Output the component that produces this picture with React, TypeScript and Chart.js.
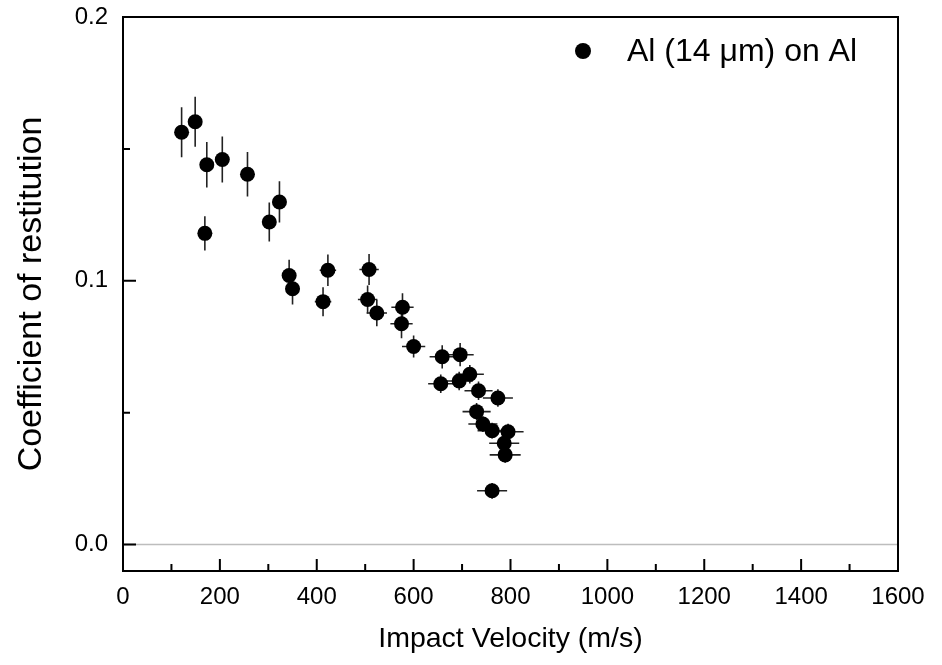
import { useEffect, useRef } from 'react';
import { Chart, registerables } from 'chart.js';

Chart.register(...registerables);

const velocity = [121, 149, 173, 205, 257, 323, 302, 169, 343, 350, 423, 413, 508, 505, 524, 577, 575, 600, 659, 696, 656, 694, 716, 734, 774, 730, 743, 762, 795, 787, 789, 762];
const restitution = [0.1563, 0.1603, 0.144, 0.146, 0.1404, 0.1299, 0.1223, 0.118, 0.102, 0.097, 0.104, 0.0921, 0.1043, 0.0929, 0.0878, 0.09, 0.0837, 0.0751, 0.0712, 0.072, 0.061, 0.062, 0.0646, 0.0583, 0.0556, 0.0504, 0.0457, 0.0432, 0.0428, 0.0384, 0.034, 0.0204];
const velocityError = [5, 6, 7, 8, 10, 13, 12, 7, 14, 14, 17, 17, 20, 20, 21, 23, 23, 24, 26, 28, 26, 28, 29, 29, 31, 29, 30, 30, 32, 31, 32, 31];
const restitutionError = [0.0095, 0.0095, 0.0086, 0.0087, 0.0084, 0.0078, 0.0074, 0.0065, 0.006, 0.006, 0.006, 0.0055, 0.0059, 0.0053, 0.005, 0.0053, 0.0055, 0.0042, 0.0044, 0.0044, 0.0035, 0.0035, 0.0035, 0.0035, 0.0033, 0.0033, 0.003, 0.003, 0.003, 0.003, 0.003, 0.003];

const xMajorTicks = [0, 200, 400, 600, 800, 1000, 1200, 1400, 1600];
const xMinorTicks = [100, 300, 500, 700, 900, 1100, 1300, 1500];
const yMajorTicks = [0, 0.1, 0.2];
const yTickLabels = ['0.0', '0.1', '0.2'];
const yMinorTicks = [0.05, 0.15];

const seriesLabel = 'Al (14 \u03bcm) on Al';
const xTitle = 'Impact Velocity (m/s)';
const yTitle = 'Coefficient of restitution';

const FONT = "'Liberation Sans', Arial, sans-serif";

const decorPlugin = {
  id: 'decor',
  beforeDatasetsDraw(chart: any) {
    const { ctx, chartArea, scales } = chart;
    const x = scales.x;
    const y = scales.y;
    ctx.save();
    const y0 = y.getPixelForValue(0);
    ctx.strokeStyle = '#bdbdbd';
    ctx.lineWidth = 1.5;
    ctx.beginPath();
    ctx.moveTo(chartArea.left, y0);
    ctx.lineTo(chartArea.right, y0);
    ctx.stroke();
    ctx.strokeStyle = '#222';
    ctx.lineWidth = 1.6;
    for (let i = 0; i < velocity.length; i++) {
      const px = x.getPixelForValue(velocity[i]);
      const py = y.getPixelForValue(restitution[i]);
      const yTop = y.getPixelForValue(restitution[i] + restitutionError[i]);
      const yBot = y.getPixelForValue(restitution[i] - restitutionError[i]);
      const xL = x.getPixelForValue(velocity[i] - velocityError[i]);
      const xR = x.getPixelForValue(velocity[i] + velocityError[i]);
      ctx.beginPath();
      ctx.moveTo(px, yTop);
      ctx.lineTo(px, yBot);
      ctx.moveTo(xL, py);
      ctx.lineTo(xR, py);
      ctx.stroke();
    }
    ctx.restore();
  },
  afterDatasetsDraw(chart: any) {
    const { ctx, chartArea, scales } = chart;
    const x = scales.x;
    const y = scales.y;
    const { left, right, top, bottom } = chartArea;
    ctx.save();
    ctx.strokeStyle = '#000';
    ctx.lineWidth = 2;
    ctx.beginPath();
    xMajorTicks.forEach((v) => {
      const px = x.getPixelForValue(v);
      ctx.moveTo(px, bottom);
      ctx.lineTo(px, bottom - 12);
    });
    xMinorTicks.forEach((v) => {
      const px = x.getPixelForValue(v);
      ctx.moveTo(px, bottom);
      ctx.lineTo(px, bottom - 7);
    });
    yMajorTicks.forEach((v) => {
      const py = y.getPixelForValue(v);
      ctx.moveTo(left, py);
      ctx.lineTo(left + 13, py);
    });
    yMinorTicks.forEach((v) => {
      const py = y.getPixelForValue(v);
      ctx.moveTo(left, py);
      ctx.lineTo(left + 7, py);
    });
    ctx.stroke();
    ctx.strokeRect(left, top, right - left, bottom - top);
    ctx.restore();
  },
  afterDraw(chart: any) {
    const { ctx } = chart;
    ctx.save();
    ctx.fillStyle = '#000';
    ctx.beginPath();
    ctx.arc(583, 51, 8, 0, Math.PI * 2);
    ctx.fill();
    ctx.font = `32px ${FONT}`;
    ctx.textBaseline = 'middle';
    ctx.textAlign = 'left';
    ctx.fillText(chart.data.datasets[0].label, 627, 52);
    ctx.restore();
  },
};

export default function App() {
  const canvasRef = useRef<HTMLCanvasElement | null>(null);

  useEffect(() => {
    if (!canvasRef.current) return;
    const chart = new Chart(canvasRef.current, {
      type: 'scatter',
      data: {
        datasets: [
          {
            label: seriesLabel,
            data: velocity.map((v, i) => ({ x: v, y: restitution[i] })),
            backgroundColor: '#000',
            borderColor: '#000',
            pointRadius: 7.5,
            pointHoverRadius: 7.5,
            borderWidth: 0,
          },
        ],
      },
      options: {
        animation: false,
        responsive: true,
        maintainAspectRatio: false,
        layout: { padding: { top: 17, right: 44, left: 0, bottom: 0 } },
        plugins: {
          legend: { display: false },
          tooltip: { enabled: false },
        },
        scales: {
          x: {
            type: 'linear',
            min: 0,
            max: 1600,
            grid: { display: false, drawTicks: false },
            border: { display: false },
            afterBuildTicks: (axis: any) => {
              axis.ticks = xMajorTicks.map((value) => ({ value }));
            },
            afterFit: (axis: any) => {
              axis.height = 94;
              axis.paddingLeft = 0;
              axis.paddingRight = 0;
            },
            ticks: {
              autoSkip: false,
              maxRotation: 0,
              padding: 12,
              color: '#000',
              font: { family: FONT, size: 24 },
              callback: (value: any) => String(value),
            },
            title: {
              display: true,
              text: xTitle,
              color: '#000',
              font: { family: FONT, size: 28.5 },
              padding: { top: 0, bottom: 9 },
            },
          },
          y: {
            type: 'linear',
            min: -0.01,
            max: 0.2,
            grid: { display: false, drawTicks: false },
            border: { display: false },
            afterBuildTicks: (axis: any) => {
              axis.ticks = yMajorTicks.map((value) => ({ value }));
            },
            afterFit: (axis: any) => {
              axis.width = 123;
              axis.paddingTop = 0;
              axis.paddingBottom = 0;
            },
            ticks: {
              autoSkip: false,
              padding: 15,
              color: '#000',
              font: { family: FONT, size: 24 },
              callback: (_value: any, index: number) => yTickLabels[index],
            },
            title: {
              display: true,
              text: yTitle,
              color: '#000',
              font: { family: FONT, size: 34 },
              padding: { top: 11, bottom: 0 },
            },
          },
        },
      },
      plugins: [decorPlugin],
    });
    return () => chart.destroy();
  }, []);

  return (
    <div style={{ position: 'fixed', left: 0, top: 0, width: 942, height: 665, background: '#fff' }}>
      <canvas ref={canvasRef} />
    </div>
  );
}
